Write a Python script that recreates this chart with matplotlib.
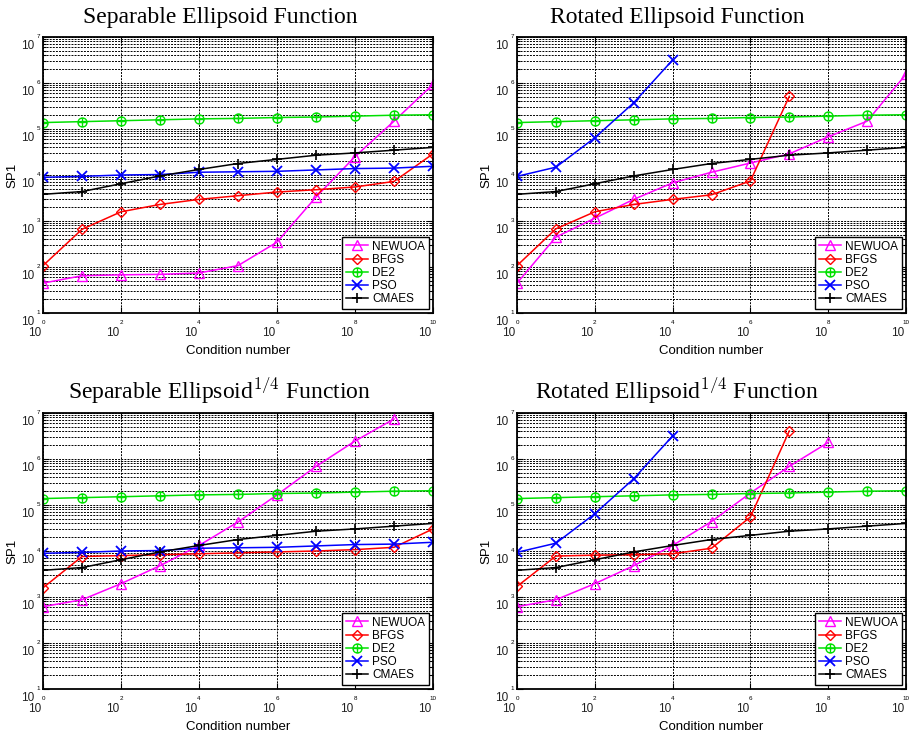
import numpy as np
import matplotlib
matplotlib.use("Agg")
import matplotlib.pyplot as plt
from matplotlib.path import Path
from matplotlib.transforms import offset_copy
from matplotlib.ticker import LogLocator, NullLocator, NullFormatter

plt.rcParams['font.family'] = 'Liberation Sans'
plt.rcParams['mathtext.fontset'] = 'cm'

# condition numbers 10^0 .. 10^10 (exponents)
cond_exp = np.arange(0, 11)

# log10(SP1) for each algorithm
de2 = [5.14, 5.16, 5.18, 5.20, 5.22, 5.23, 5.25, 5.26, 5.28, 5.30, 5.31]
cmaes = [3.58, 3.64, 3.81, 3.98, 4.12, 4.25, 4.34, 4.43, 4.48, 4.54, 4.60]
pso_sep = [3.95, 3.97, 4.00, 4.01, 4.06, 4.07, 4.08, 4.11, 4.14, 4.15, 4.19]
pso_rot = [3.97, 4.17, 4.81, 5.57, 6.50]

sep_newuoa = [1.65, 1.81, 1.83, 1.84, 1.87, 2.03, 2.54, 3.52, 4.40, 5.17, 5.97]
sep_bfgs = [2.03, 2.82, 3.20, 3.36, 3.47, 3.55, 3.63, 3.68, 3.74, 3.86, 4.46]
rot_newuoa = [1.65, 2.65, 3.06, 3.47, 3.83, 4.06, 4.26, 4.46, 4.83, 5.17, 6.19]
rot_bfgs = [2.03, 2.83, 3.20, 3.36, 3.47, 3.57, 3.87, 5.71]

sep4_newuoa = [2.79, 2.94, 3.29, 3.68, 4.12, 4.63, 5.22, 5.84, 6.39, 6.87]
sep4_bfgs = [3.20, 3.88, 3.90, 3.92, 3.94, 3.96, 3.98, 4.00, 4.03, 4.08, 4.48]
rot4_newuoa = [2.79, 2.94, 3.29, 3.68, 4.12, 4.64, 5.26, 5.84, 6.36]
rot4_bfgs = [3.23, 3.89, 3.91, 3.92, 3.94, 4.06, 4.74, 6.61]

titles = ['Separable Ellipsoid Function', 'Rotated Ellipsoid Function',
          'Separable Ellipsoid$^{1/4}$ Function', 'Rotated Ellipsoid$^{1/4}$ Function']
panels = [
    (sep_newuoa, sep_bfgs, de2, pso_sep, cmaes),
    (rot_newuoa, rot_bfgs, de2, pso_rot, cmaes),
    (sep4_newuoa, sep4_bfgs, de2, pso_sep, cmaes),
    (rot4_newuoa, rot4_bfgs, de2, pso_rot, cmaes),
]
names = ['NEWUOA', 'BFGS', 'DE2', 'PSO', 'CMAES']

# circle with a plus inside
oplus = Path.make_compound_path(
    Path.unit_circle(),
    Path([(-1, 0), (1, 0), (0, -1), (0, 1)],
         [Path.MOVETO, Path.LINETO, Path.MOVETO, Path.LINETO]))

styles = [
    dict(color='#ff00ff', marker='^', markersize=6.5),
    dict(color='#ff0000', marker='D', markersize=5),
    dict(color='#00e000', marker=oplus, markersize=6.5),
    dict(color='#0000ff', marker='x', markersize=6.5, markeredgewidth=1.3),
    dict(color='black', marker='+', markersize=6.5, markeredgewidth=1.2),
]

W, H = 913, 736
fig = plt.figure(figsize=(W / 100, H / 100), dpi=100)

# axes boxes in pixels: left, top, right, bottom
boxes = [(43, 37, 433, 313), (517, 37, 906, 313),
         (43, 413, 433, 689), (517, 413, 906, 689)]
title_pos = [(220, 23), (677, 23), (220, 399), (677, 399)]

grid_ls = (0, (2.0, 1.2))

for k in range(4):
    l, t, r, b = boxes[k]
    ax = fig.add_axes([l / W, 1 - b / H, (r - l) / W, (b - t) / H])
    for vals, nm, st in zip(panels[k], names, styles):
        x = 10.0 ** cond_exp[:len(vals)]
        ax.plot(x, 10.0 ** np.array(vals), lw=1.1, markerfacecolor='none',
                label=nm, **st)

    ax.set_xscale('log')
    ax.set_yscale('log')
    ax.set_xlim(1, 1e10)
    ax.set_ylim(10, 1e7)
    ax.set_xticks(10.0 ** np.arange(0, 11, 2))
    ax.xaxis.set_minor_locator(NullLocator())
    ax.yaxis.set_major_locator(LogLocator(base=10, numticks=10))
    ax.yaxis.set_minor_locator(LogLocator(base=10, subs=np.arange(2, 10), numticks=10))
    ax.xaxis.set_major_formatter(NullFormatter())
    ax.yaxis.set_major_formatter(NullFormatter())
    ax.yaxis.set_minor_formatter(NullFormatter())
    ax.tick_params(which='both', direction='in', top=True, right=True, length=4, width=0.8)
    ax.tick_params(which='minor', length=2.5)
    ax.grid(True, axis='y', which='both', color='black', ls=grid_ls, lw=0.7)
    ax.grid(True, axis='x', which='major', color='black', ls=grid_ls, lw=0.7)
    for sp in ax.spines.values():
        sp.set_linewidth(1.3)

    # old style "10" with a small exponent
    xt = ax.get_xaxis_transform()
    for e in range(0, 11, 2):
        ax.text(10.0 ** e, 0, str(e), fontsize=4.5, ha='center', va='center',
                transform=offset_copy(xt, fig=fig, x=0, y=-9, units='dots'))
        ax.text(10.0 ** e, 0, '10', fontsize=8.5, ha='center', va='center', color='#222222',
                transform=offset_copy(xt, fig=fig, x=-8, y=-20, units='dots'))
    yt = ax.get_yaxis_transform()
    for e in range(1, 8):
        ax.text(0, 10.0 ** e, str(e), fontsize=4.5, ha='right', va='center',
                transform=offset_copy(yt, fig=fig, x=-3, y=1, units='dots'))
        ax.text(0, 10.0 ** e, '10', fontsize=8.5, ha='right', va='center', color='#222222',
                transform=offset_copy(yt, fig=fig, x=-9, y=-9, units='dots'))

    ax.text(-31 / (r - l), 0.5, 'SP1', transform=ax.transAxes, rotation=90,
            ha='center', va='center', fontsize=9.5)
    ax.text(0.5, -38 / (b - t), 'Condition number', transform=ax.transAxes,
            ha='center', va='center', fontsize=9.5)

    leg = ax.legend(loc='lower right', fontsize=8.5, labelspacing=0.1, handlelength=1.9,
                    handletextpad=0.35, borderpad=0.3, borderaxespad=0.35,
                    fancybox=False, framealpha=1, edgecolor='black')
    leg.get_frame().set_linewidth(1.0)

    tx, ty = title_pos[k]
    fig.text(tx / W, 1 - ty / H, titles[k], family='Liberation Serif', fontsize=17,
             ha='center', va='baseline')

fig.savefig('out.png', dpi=100)
